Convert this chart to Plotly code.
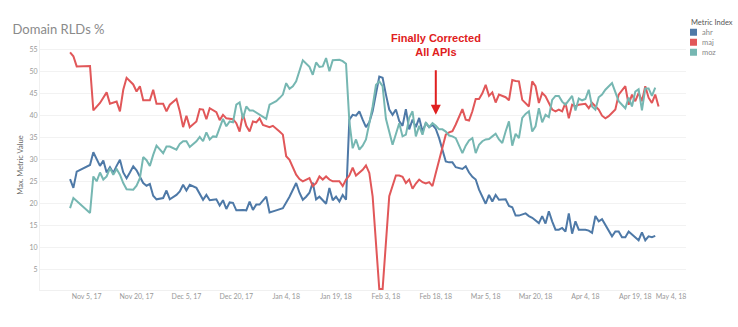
import pandas as pd
import plotly.graph_objects as go

# daily dates of the measured period
dates = pd.date_range("2017-10-31", "2018-04-26", freq="D")

ahr = [25.6, 23.6, 27.3, None, None, None, 28.8, 31.7, 30.2, 28.6,
       29.8, 27.1, 28.3, 27, 28.6, 30, 27.1, 25.8, 27.1, 28.5,
       27.6, None, 24.7, 24.1, 24.5, 21.8, 21, None, 21.3, 23,
       21, None, 22, 22.8, 24.3, 23, 24.3, None, 23.6, 22.4,
       20.9, 22, 20.8, 20.9, 21, 19.6, 20.8, 18.8, 20.3, 20.2,
       18.5, None, 18.6, 18.5, 20.5, 18.6, 19.8, 19.8, None, 21.6,
       18, None, 18.5, None, 19, None, 21.6, None, 24.7, 22.5,
       20.9, 21.6, 22.5, 24.8, 21, 21.6, None, 20, 23.6, 20.8,
       21.6, 20.5, 22, 20.9, 39.1, 40.2, 40, 41, 39.1, 37.4,
       38.5, 41, None, 48.9, 48.6, 44.8, 41.4, 40.2, 41.4, 38.8,
       37.7, 41.5, 36.9, 39.1, 37.4, 39.5, 36.4, 38.3, 37.4, 37.9,
       37, 34.9, 32.3, 29.6, 29.4, 29.4, 28.3, None, 27.9, 28.5,
       27.1, 26.1, 25.5, 23.2, 21.7, 20, 22, 20.5, 22, 20.9,
       None, 21, 19.5, 19.2, 17.3, 17.3, None, 17.8, 17.2, 16.8,
       None, 15.6, 17.2, 15.5, 18.3, 16, 14.1, 14.1, 14.5, 13.7,
       17.8, 13.2, 16, 14.1, None, 14.1, 13.9, 13.4, 17.2, 16,
       16.5, 15.2, 14.1, 12.6, 13.7, 13.7, 12.4, 12.4, 13.7, 13,
       12.2, 11.7, 13.5, 11.7, 12.6, 12.4, 12.7, None]

maj = [54.4, 53.5, 51.2, None, None, None, 51.3, 41.2, 42.1, 42.9,
       None, 45.3, 42.7, None, 43.2, 41, 45.9, 48.6, None, 47.1,
       45.5, 46.7, 43.5, None, 43.5, 45.9, 42.7, None, 42.7, 41,
       42.5, None, 43.8, 41, 37.4, 40, 37.4, None, 38.7, 41.5,
       41.4, 39.2, 41.7, None, 40.8, 39, 40.2, 39.4, None, 39.2,
       38.3, 36.4, 40.4, 37.7, 36.4, 38.7, 38.5, 39.4, 37.9, None,
       37.4, 37.7, None, 36.4, 35.7, 30.8, 30, None, 26.6, 25.6,
       25.1, None, 25.8, 24, 24.7, 26.2, 25.5, 26.2, 25.5, 25.1,
       None, 25.1, 24, 25.5, 26.4, 28.2, 26.4, None, 27.7, 28.7,
       27, 21.7, 10.3, 0.6, 0.6, 10.3, 21.7, None, 26.4, 26.4,
       26.1, 24.7, 25.5, 23.4, 24.6, 25.5, 24.9, 24.6, 24.9, 24,
       27, 30, 33.1, 35.7, 36.2, 36.5, 38, None, 41.5, 39.1,
       38.9, 41, 43.8, 43.8, 45.1, 47, 44.5, 45.3, 43, 44.8,
       None, 44.2, 43.5, 48.1, 47.9, 47.8, 43.6, 42.9, 42.1, 47.8,
       46.7, 42.9, 45.2, 44.4, None, 41.4, 41, 41.4, 41, 42.9,
       39.4, 42.5, 42.1, 42.5, None, 42.7, 41.7, 42.9, None, 41.4,
       40, 39.4, 39.9, None, 41.4, 44.8, None, 46.7, 42.5, 44.8,
       43.3, 45.2, 43.3, 46.7, 44.1, 42.9, 44.8, 42.1]

moz = [19, 21.3, None, None, None, None, 17.9, 26.2, 25.1, 27.1,
       25.5, 26.2, 28.1, 26.6, 27.9, 26.6, 24.7, 23.3, None, 23.2,
       24.1, 25.8, 30.6, 29.9, 28.6, 31.1, 33.2, None, 31.5, 33,
       33, None, 32.3, 33.6, 34.2, 34.2, 32.9, None, 34.2, 35.2,
       34.2, 36.2, 34.6, 35.3, 35.2, 37.4, 39.3, 37.6, 38.7, 38.5,
       42.5, 43, 39.3, 42.1, 41.2, 41.2, None, 40.2, 39.7, 39.3,
       42.5, None, 43.3, 44, 44.8, 47.4, 46.1, 46.7, 47.8, None,
       52.6, 51.8, 51.1, 49.3, 52.1, 51.1, 51.2, 53.1, 50.1, 52.6,
       None, 52.7, 52.4, 51.8, 38.7, 32.6, 34.6, 32.3, 33.2, 34.6,
       38.3, 42.1, 47, 47.8, 46.7, 39.3, None, 33.4, 36.1, 38.3,
       35.3, 35.7, 39.5, 41, 35.3, 37.7, 35.7, 38.5, 37.4, 38.3,
       37.7, 36.9, 36.9, 36.4, 35.5, 35.3, 34.9, None, 31.5, 33.2,
       34.4, 34.9, 31.5, 33.4, 34.2, 34.6, 34.7, 35.3, 35.9, 34.6,
       33.8, 36.4, 38.7, 33.2, 35.9, 34.9, 39.5, 40.4, 41, 36.4,
       37.6, 41.7, 38.5, 40.2, 39.7, 43.6, 44.5, 44.5, 43.2, 42.5,
       43.6, 44.5, 41.2, 43.9, 43.5, 43.8, 45.9, 42.1, 41.4, 44.2,
       44.8, 45.9, None, 47.4, 45.2, 43.3, 42.5, 41.7, 44.1, 42.1,
       45.5, 46, 41.2, 46.2, 46.2, 44.5, 46.4, None]

series_names = ["ahr", "maj", "moz"]
series_values = [ahr, maj, moz]
colors = ["#4e79a7", "#e15759", "#76b7b2"]

tick_dates = ["2017-11-05", "2017-11-20", "2017-12-05", "2017-12-20", "2018-01-04",
              "2018-01-19", "2018-02-03", "2018-02-18", "2018-03-05", "2018-03-20",
              "2018-04-04", "2018-04-19", "2018-05-04"]
tick_labels = ["Nov 5, 17", "Nov 20, 17", "Dec 5, 17", "Dec 20, 17", "Jan 4, 18",
               "Jan 19, 18", "Feb 3, 18", "Feb 18, 18", "Mar 5, 18", "Mar 20, 18",
               "Apr 4, 18", "Apr 19, 18", "May 4, 18"]
y_ticks = [5, 10, 15, 20, 25, 30, 35, 40, 45, 50, 55]

event_date = "2018-02-18"
event_value = 40.2
event_text = "Finally Corrected<br>All APIs"
legend_title = "Metric Index"

# the last label is pushed left to stay inside the pane, as in the original
shown_labels = tick_labels[:-1] + [tick_labels[-1] + "\u2007" * 7]

fig = go.Figure()
for name, vals, col in zip(series_names, series_values, colors):
    fig.add_trace(go.Scatter(x=dates, y=vals, mode="lines", name=name,
                             connectgaps=True, showlegend=False,
                             line=dict(color=col, width=2)))

# annotation with arrow
fig.add_annotation(x=event_date, y=event_value, xref="x", yref="y", text="",
                   showarrow=True, ax=0, ay=-46, arrowcolor="#e02020",
                   arrowwidth=2, arrowhead=2, arrowsize=1)
fig.add_annotation(x=event_date, y=56, xref="x", yref="y", yanchor="middle",
                   text=event_text, showarrow=False,
                   font=dict(family="Liberation Sans, Arial", size=11,
                             color="#e02020", weight="bold"))

# compact legend (Tableau style): title + colour squares
fig.add_annotation(x=1.0046, y=1.069, xref="paper", yref="paper",
                   xanchor="left", yanchor="middle", text=legend_title,
                   showarrow=False, font=dict(size=7.5, color="#555555"))
for i, (name, col) in enumerate(zip(series_names, colors)):
    yc = 1.031 - 0.04 * i
    fig.add_shape(type="rect", xref="paper", yref="paper",
                  x0=1.0062, x1=1.0170, y0=yc - 0.014, y1=yc + 0.014,
                  fillcolor=col, line=dict(width=0))
    fig.add_annotation(x=1.0217, y=yc, xref="paper", yref="paper",
                       xanchor="left", yanchor="middle", text=name,
                       showarrow=False, font=dict(size=7.5, color="#888888"))

fig.update_layout(
    width=738, height=327,
    margin=dict(l=40, r=52, t=40, b=37),
    paper_bgcolor="white", plot_bgcolor="white",
    font=dict(family="Lato, Open Sans, sans-serif", color="#999999", size=7),
    title=dict(text="Domain RLDs %", x=0.017, xanchor="left", y=0.91, yanchor="middle",
               font=dict(size=13, color="#8a8a8a")),
    showlegend=False,
    xaxis=dict(range=["2017-10-21 23:00", "2018-05-04 06:00"],
               tickvals=tick_dates, ticktext=shown_labels, tickangle=0,
               showgrid=False, showline=True, linecolor="#f0f0f0", linewidth=1,
               zeroline=False, tickfont=dict(size=7, color="#999999")),
    yaxis=dict(range=[0.4, 57.2], tickvals=y_ticks, showgrid=True,
               gridcolor="#f2f2f2", gridwidth=1, zeroline=False,
               showline=True, linecolor="#f0f0f0",
               title=dict(text="Max. Metric Value", font=dict(size=7.5, color="#666666"),
                          standoff=4),
               tickfont=dict(size=7, color="#999999")),
)

fig.write_html("out.html")
